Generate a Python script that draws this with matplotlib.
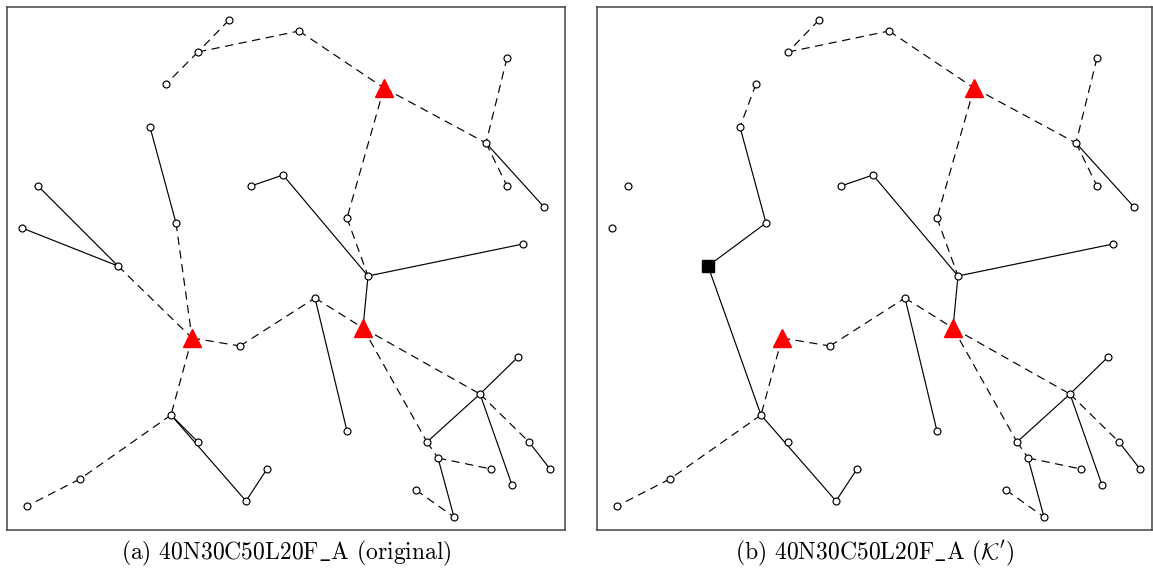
import matplotlib
matplotlib.use('Agg')
import matplotlib.pyplot as plt

plt.rcParams['mathtext.fontset'] = 'cm'

# node coordinates (same layout in both panels, y grows downward)
node_names = ['A1', 'A2', 'A3', 'A4', 'A5', 'A6', 'A7', 'A8', 'A9', 'A10',
              'B1', 'T1', 'B2', 'B3', 'B4', 'B5', 'B6', 'B7',
              'T2', 'C1', 'C2', 'C3', 'C4', 'C5', 'C6', 'C7',
              'D1', 'D2', 'T3', 'D3', 'D4', 'D5', 'D6', 'D7', 'D8', 'D9',
              'D10', 'D11', 'D12', 'D13']
node_x = [229, 198, 166, 150, 176, 38, 22, 118, 251, 283,
          299, 384, 507, 486, 507, 544, 347, 523,
          192, 240, 171, 198, 80, 27, 246, 267,
          368, 315, 363, 347, 518, 480, 427, 529, 550, 438,
          491, 512, 416, 454]
node_y = [20, 52, 84, 127, 223, 186, 228, 266, 186, 175,
          31, 88, 58, 143, 186, 207, 218, 244,
          338, 346, 415, 442, 479, 506, 501, 469,
          276, 298, 328, 431, 357, 394, 442, 442, 469, 458,
          469, 485, 490, 517]

triangles = ['T1', 'T2', 'T3']

# panel (a) original
dashed_a = [('A1', 'A2'), ('A2', 'A3'), ('A2', 'B1'), ('B1', 'T1'), ('T1', 'B3'),
            ('B2', 'B3'), ('B3', 'B4'), ('T1', 'B6'), ('B6', 'D1'), ('A5', 'T2'),
            ('A8', 'T2'), ('T2', 'C1'), ('T2', 'C2'), ('C1', 'D2'), ('D2', 'T3'),
            ('T3', 'D5'), ('D5', 'D7'), ('T3', 'D6'), ('D6', 'D9'), ('D9', 'D10'),
            ('D12', 'D13'), ('C2', 'C4'), ('C4', 'C5')]
solid_a = [('A4', 'A5'), ('A6', 'A8'), ('A7', 'A8'), ('A9', 'A10'), ('A10', 'D1'),
           ('D1', 'B7'), ('D1', 'T3'), ('B3', 'B5'), ('D2', 'D3'), ('D6', 'D5'),
           ('D5', 'D4'), ('D5', 'D11'), ('D9', 'D13'), ('D7', 'D8'), ('C2', 'C3'),
           ('C2', 'C6'), ('C6', 'C7')]
square_a = []

# panel (b) K'
dashed_b = [('A1', 'A2'), ('A2', 'B1'), ('A3', 'A4'), ('B1', 'T1'), ('T1', 'B3'),
            ('B2', 'B3'), ('B3', 'B4'), ('T1', 'B6'), ('B6', 'D1'), ('T2', 'C1'),
            ('T2', 'C2'), ('C1', 'D2'), ('D2', 'T3'), ('T3', 'D5'), ('D5', 'D7'),
            ('T3', 'D6'), ('D6', 'D9'), ('D9', 'D10'), ('D12', 'D13'),
            ('C2', 'C4'), ('C4', 'C5')]
solid_b = [('A4', 'A5'), ('A5', 'A8'), ('A8', 'C2'), ('A9', 'A10'), ('A10', 'D1'),
           ('D1', 'B7'), ('D1', 'T3'), ('B3', 'B5'), ('D2', 'D3'), ('D6', 'D5'),
           ('D5', 'D4'), ('D5', 'D11'), ('D9', 'D13'), ('D7', 'D8'), ('C2', 'C6'),
           ('C6', 'C7')]
square_b = ['A8']

captions = [r'(a) 40N30C50L20F$\_$A (original)',
            r"(b) 40N30C50L20F$\_$A ($\mathcal{K}'$)"]

pos = {n: (x, y) for n, x, y in zip(node_names, node_x, node_y)}


def draw_panel(ax, dashed, solid, squares):
    for a, b in solid:
        ax.plot([pos[a][0], pos[b][0]], [pos[a][1], pos[b][1]],
                color='black', lw=0.85, zorder=1)
    for a, b in dashed:
        ax.plot([pos[a][0], pos[b][0]], [pos[a][1], pos[b][1]],
                color='black', lw=0.85, ls=(0, (7, 4.7)), zorder=1)
    for n in node_names:
        if n in triangles:
            ax.plot(pos[n][0], pos[n][1], marker='^', ms=13, color='red',
                    mec='red', zorder=3)
        elif n in squares:
            ax.plot(pos[n][0], pos[n][1], marker='s', ms=8.5, color='black',
                    zorder=3)
        else:
            ax.plot(pos[n][0], pos[n][1], marker='o', ms=5, mfc='white',
                    mec='black', mew=0.85, zorder=2)
    ax.set_ylim(530, 7)
    ax.set_xticks([])
    ax.set_yticks([])
    for s in ax.spines.values():
        s.set_color('#444444')
        s.set_linewidth(1.1)


W, H = 1153, 577
fig = plt.figure(figsize=(W / 100, H / 100), dpi=100)
ax1 = fig.add_axes([7 / W, (H - 530) / H, 558 / W, 523 / H])
ax2 = fig.add_axes([597 / W, (H - 530) / H, 555 / W, 523 / H])

draw_panel(ax1, dashed_a, solid_a, square_a)
ax1.set_xlim(7, 565)
draw_panel(ax2, dashed_b, solid_b, square_b)
ax2.set_xlim(7, 562)

fig.text(286 / W, 1 - 553 / H, captions[0], ha='center', va='center',
         fontsize=17, family='cmr10')
fig.text(875 / W, 1 - 553 / H, captions[1], ha='center', va='center',
         fontsize=17, family='cmr10')

fig.savefig('out.png', dpi=100)
